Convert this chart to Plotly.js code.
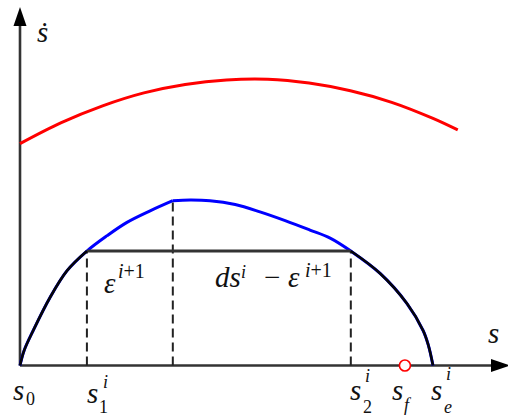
<!DOCTYPE html>
<html>
<head>
<meta charset="utf-8">
<script src="https://cdn.plot.ly/plotly-3.0.1.min.js"></script>
<style>
  html, body { margin: 0; padding: 0; background: #fff; }
  #chart { width: 508px; height: 417px; }
</style>
</head>
<body>
<div id="chart"></div>
<script>
// Phase plane: speed s-dot against path position s

// upper limit curve (red)
const upperS = [0, 1, 2, 3, 4, 5, 6, 7, 8, 9, 10, 10.6];
const upperV = [6.34, 6.94, 7.42, 7.79, 8.03, 8.16, 8.18, 8.07, 7.85, 7.52, 7.06, 6.73];

// trial profile between s1 and s2 (blue), rising then falling part
const riseS = [1.62, 2.11, 2.59, 3.15, 3.70];
const riseV = [3.27, 3.71, 4.09, 4.42, 4.71];
const fallS = [3.70, 4.12, 4.60, 5.21, 5.81, 6.42, 7.02, 7.51, 8.01];
const fallV = [4.71, 4.73, 4.71, 4.60, 4.39, 4.14, 3.87, 3.64, 3.27];

// acceleration and deceleration arcs (black)
const accelS = [0, 0.10, 0.32, 0.73, 1.14, 1.62];
const accelV = [0, 0.43, 1.00, 1.95, 2.71, 3.27];
const decelS = [8.01, 8.72, 9.37, 9.76, 9.89, 10];
const decelV = [3.27, 2.63, 1.77, 1.00, 0.57, 0];

// key positions along s
const s1 = 1.62, sPeak = 3.70, s2 = 8.01, sF = 9.32, sE = 10;
const plateau = 3.27, peakV = 4.71;

// screen scale of the drawing (pixels per unit) and origin placement
const W = 508, H = 417;
const PX_X = 41.3, PX_Y = 35;
const OX = 20, OY = 365.5;
const X = px => (px - OX) / PX_X;
const Y = py => (OY - py) / PX_Y;

const blue = '#0000ff', red = '#ff0000', ink = '#111111';

const traces = [
  { x: upperS, y: upperV, mode: 'lines', line: { color: red, width: 3, shape: 'spline' } },
  { x: accelS.concat(riseS.slice(1)), y: accelV.concat(riseV.slice(1)), mode: 'lines',
    line: { color: blue, width: 3, shape: 'spline' } },
  { x: fallS.concat(decelS.slice(1)), y: fallV.concat(decelV.slice(1)), mode: 'lines',
    line: { color: blue, width: 3, shape: 'spline' } },
  { x: [s1, s1, null, sPeak, sPeak, null, s2, s2], y: [0, plateau, null, 0, peakV, null, 0, plateau],
    mode: 'lines', line: { color: '#222', width: 2, dash: '9px,5px' } },
  { x: [s1, s2], y: [plateau, plateau], mode: 'lines', line: { color: '#333', width: 3 } },
  { x: accelS, y: accelV, mode: 'lines', line: { color: '#050508', width: 2.6, shape: 'spline' } },
  { x: decelS, y: decelV, mode: 'lines', line: { color: '#050508', width: 2.6, shape: 'spline' } },
  { x: [sF], y: [0], mode: 'markers',
    marker: { symbol: 'circle', size: 11, color: '#fff', line: { color: red, width: 1.6 } } }
];

// axes with arrowheads
const xTip = X(510), yTip = Y(7);
const headLen = 19, headHalf = 6.5;
const axisColor = '#333';
const shapes = [
  { type: 'line', xref: 'x', yref: 'y', x0: 0, y0: 0, x1: xTip - headLen / PX_X, y1: 0,
    line: { color: axisColor, width: 2.6 }, layer: 'below' },
  { type: 'line', xref: 'x', yref: 'y', x0: 0, y0: 0, x1: 0, y1: yTip - headLen / PX_Y,
    line: { color: axisColor, width: 2.6 }, layer: 'below' },
  { type: 'path', xref: 'x', yref: 'y', layer: 'below',
    path: `M ${xTip},0 L ${xTip - headLen / PX_X},${headHalf / PX_Y} L ${xTip - headLen / PX_X},${-headHalf / PX_Y} Z`,
    fillcolor: '#000', line: { width: 0 } },
  { type: 'path', xref: 'x', yref: 'y', layer: 'below',
    path: `M 0,${yTip} L ${-headHalf / PX_X},${yTip - headLen / PX_Y} L ${headHalf / PX_X},${yTip - headLen / PX_Y} Z`,
    fillcolor: '#000', line: { width: 0 } }
];

// text placed by ink centre (cx) and baseline (py)
const FONT = 'Liberation Serif, DejaVu Serif, serif';
function lab(text, cx, baseline, size) {
  return {
    x: X(cx), y: Y(baseline - 0.34 * size), xref: 'x', yref: 'y',
    text: text, showarrow: false, xanchor: 'center', yanchor: 'middle',
    font: { family: FONT, size: size, color: ink }
  };
}
const big = 29, small = 18;
const annotations = [
  lab('<i>ṡ</i>', 42.5, 42, big),
  lab('<i>s</i>', 493.5, 343, big),
  // s0
  lab('<i>s</i>', 18.5, 400, big), lab('0', 30, 405, small),
  // s1^i
  lab('<i>s</i>', 92.5, 403, big), lab('<i>i</i>', 105, 388, small), lab('1', 103.5, 413, small),
  // s2^i
  lab('<i>s</i>', 355, 400, big), lab('<i>i</i>', 367.5, 382, small), lab('2', 367.5, 413, small),
  // s_f
  lab('<i>s</i>', 397.5, 400, big), lab('<i>f</i>', 407.5, 411, small),
  // s_e^i
  lab('<i>s</i>', 436.5, 400, big), lab('<i>i</i>', 448.5, 380, small), lab('<i>e</i>', 447.5, 413, small),
  // epsilon^{i+1}
  lab('<i>ε</i>', 109.5, 293, big), lab('<i>i</i>+1', 131.5, 278, 20),
  // ds^i - epsilon^{i+1}
  lab('<i>ds</i>', 227.5, 287, big), lab('<i>i</i>', 243.5, 278, small),
  lab('−', 271.5, 287, big),
  lab('<i>ε</i>', 294, 287, big), lab('<i>i</i>+1', 318, 277, 20)
];

const layout = {
  width: W, height: H,
  margin: { l: 0, r: 0, t: 0, b: 0, pad: 0 },
  paper_bgcolor: '#fff', plot_bgcolor: '#fff',
  showlegend: false,
  xaxis: { range: [X(0), X(W)], visible: false, fixedrange: true },
  yaxis: { range: [Y(H), Y(0)], visible: false, fixedrange: true },
  shapes: shapes,
  annotations: annotations
};

Plotly.newPlot('chart', traces, layout, { staticPlot: true, displayModeBar: false });
</script>
</body>
</html>
